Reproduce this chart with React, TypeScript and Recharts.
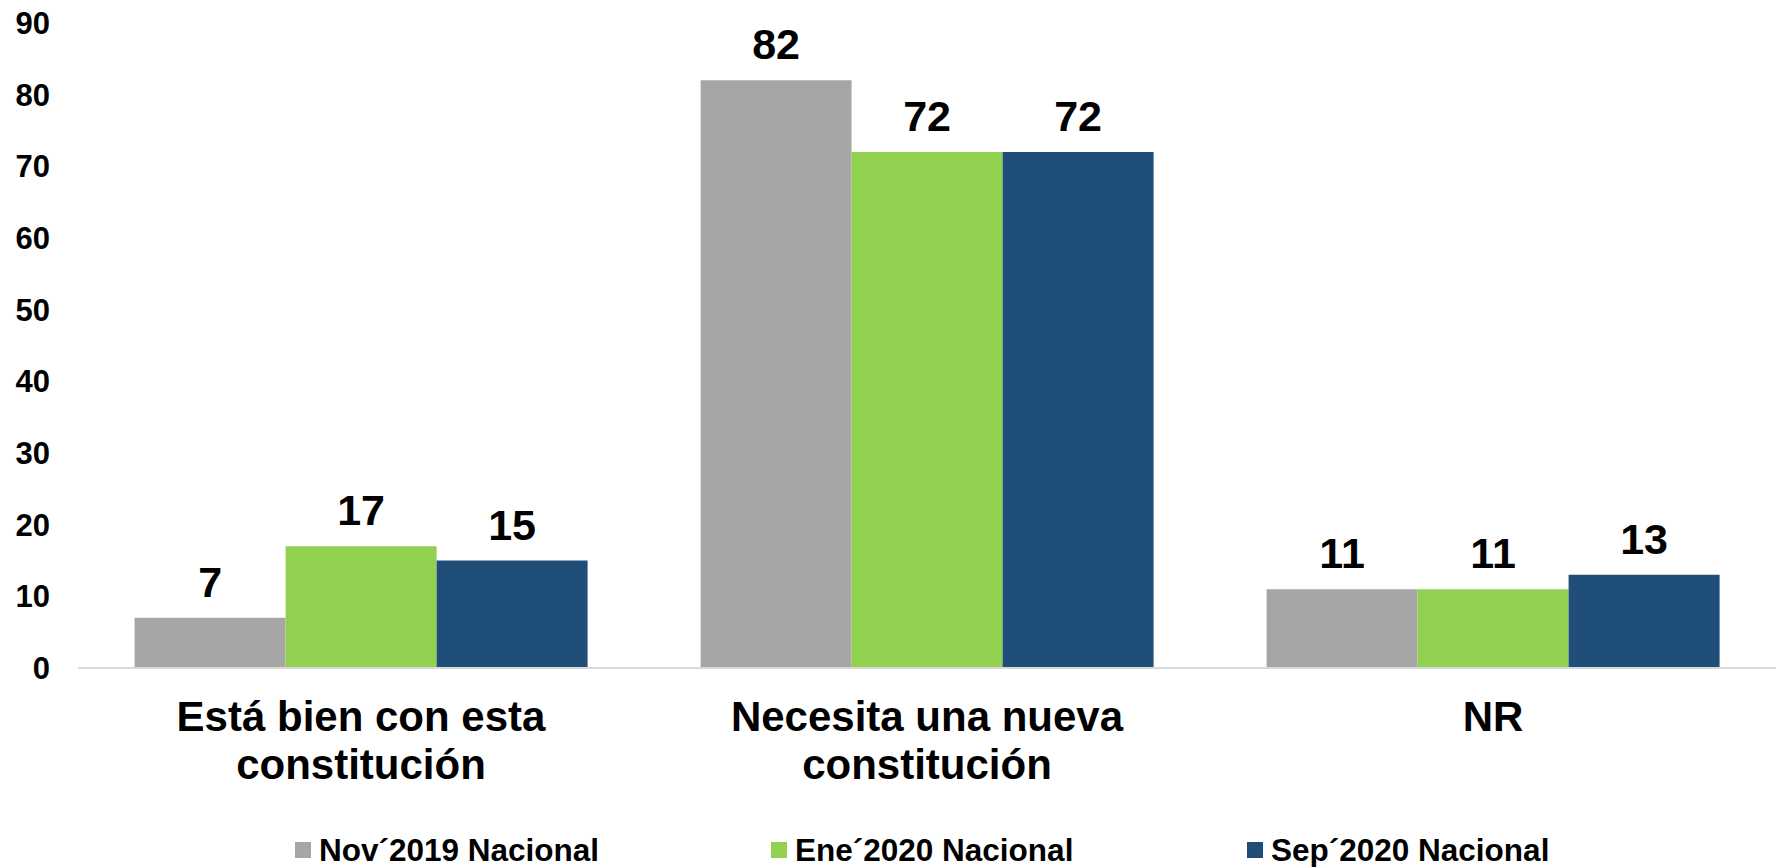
import { Bar, BarChart, LabelList, Legend, XAxis, YAxis } from "recharts";

const categories = ["Está bien con esta\nconstitución", "Necesita una nueva\nconstitución", "NR"];
const nov2019 = [7, 82, 11];
const ene2020 = [17, 72, 11];
const sep2020 = [15, 72, 13];
const yTicks = [0, 10, 20, 30, 40, 50, 60, 70, 80, 90];

const series = [
  { key: "nov2019", name: "Nov´2019 Nacional", color: "#a6a6a6" },
  { key: "ene2020", name: "Ene´2020 Nacional", color: "#92d050" },
  { key: "sep2020", name: "Sep´2020 Nacional", color: "#1f4e79" },
];

const data = categories.map((label, i) => ({
  label,
  nov2019: nov2019[i],
  ene2020: ene2020[i],
  sep2020: sep2020[i],
}));

const FONT = '"Liberation Sans", Arial, sans-serif';

function CategoryTick({ x, y, payload }: any) {
  const lines = String(payload.value).split("\n");
  return (
    <text
      x={x}
      y={y}
      textAnchor="middle"
      fontFamily={FONT}
      fontWeight="bold"
      fontSize={42}
      fill="#000"
    >
      {lines.map((line, i) => (
        <tspan key={i} x={x} y={y + 63 + i * 48}>
          {line}
        </tspan>
      ))}
    </text>
  );
}

function LegendContent() {
  return (
    <div style={{ display: "flex", paddingLeft: 295, fontFamily: FONT }}>
      {series.map((s) => (
        <div
          key={s.key}
          style={{ width: 476, display: "flex", alignItems: "center", height: 34 }}
        >
          <span style={{ width: 16, height: 16, background: s.color, marginRight: 8 }} />
          <span style={{ fontSize: 31.5, fontWeight: "bold", color: "#000", lineHeight: "34px" }}>
            {s.name}
          </span>
        </div>
      ))}
    </div>
  );
}

export default function App() {
  return (
    <div style={{ position: "absolute", left: 0, top: 0, width: 1781, height: 867, background: "#fff" }}>
      <BarChart
        width={1781}
        height={867}
        data={data}
        margin={{ top: 23, right: 5, left: 0, bottom: 0 }}
        barCategoryGap="10%"
        barGap={0}
      >
        <XAxis
          dataKey="label"
          height={165}
          tickLine={false}
          tickSize={0}
          tickMargin={0}
          axisLine={{ stroke: "#d9d9d9", strokeWidth: 2 }}
          tick={<CategoryTick />}
          interval={0}
        />
        <YAxis
          width={78}
          domain={[0, 90]}
          ticks={yTicks}
          axisLine={false}
          tickLine={false}
          tickSize={0}
          tickMargin={28}
          tick={{ fill: "#000", fontSize: 31, fontWeight: "bold", fontFamily: FONT }}
        />
        <Legend
          verticalAlign="bottom"
          height={34}
          wrapperStyle={{ left: 0, width: 1781, bottom: 0 }}
          content={<LegendContent />}
        />
        {series.map((s) => (
          <Bar key={s.key} dataKey={s.key} name={s.name} fill={s.color} isAnimationActive={false}>
            <LabelList
              dataKey={s.key}
              position="top"
              offset={21}
              fill="#000"
              fontSize={43}
              fontWeight="bold"
              fontFamily={FONT}
            />
          </Bar>
        ))}
      </BarChart>
    </div>
  );
}
